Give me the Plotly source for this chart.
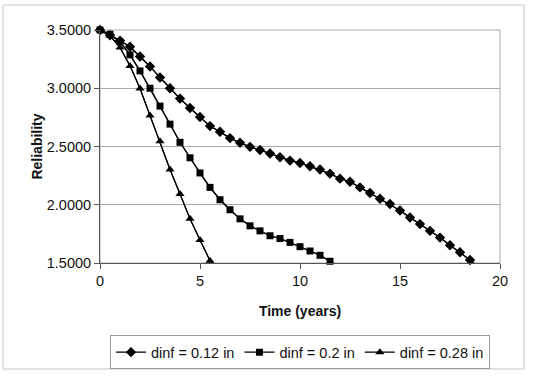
import numpy as np
import plotly.graph_objects as go

# Time axis (years) and reliability series
t_012 = [0, 0.5, 1, 1.5, 2, 2.5, 3, 3.5, 4, 4.5, 5, 5.5, 6, 6.5, 7, 7.5, 8, 8.5, 9,
         9.5, 10, 10.5, 11, 11.5, 12, 12.5, 13, 13.5, 14, 14.5, 15, 15.5, 16, 16.5,
         17, 17.5, 18, 18.5, 19]
r_012 = [3.5, 3.455, 3.408, 3.356, 3.273, 3.187, 3.092, 3.0, 2.911, 2.83, 2.753, 2.675,
         2.627, 2.572, 2.532, 2.497, 2.47, 2.44, 2.408, 2.379, 2.359, 2.33, 2.302,
         2.267, 2.224, 2.198, 2.149, 2.101, 2.052, 2.006, 1.951, 1.891, 1.834, 1.776,
         1.718, 1.653, 1.592, 1.526, 1.46]

t_020 = [0, 0.5, 1, 1.5, 2, 2.5, 3, 3.5, 4, 4.5, 5, 5.5, 6, 6.5, 7, 7.5, 8, 8.5, 9,
         9.5, 10, 10.5, 11, 11.5, 12]
r_020 = [3.5, 3.463, 3.399, 3.287, 3.149, 3.0, 2.847, 2.692, 2.536, 2.403, 2.273,
         2.149, 2.043, 1.957, 1.879, 1.819, 1.776, 1.734, 1.71, 1.677, 1.64, 1.603,
         1.566, 1.515, 1.47]

t_028 = [0, 0.5, 1, 1.5, 2, 2.5, 3, 3.5, 4, 4.5, 5, 5.5, 6]
r_028 = [3.5, 3.45, 3.35, 3.192, 2.997, 2.767, 2.545, 2.302, 2.092, 1.879, 1.698,
         1.52, 1.44]

series_names = ["dinf = 0.12 in", "dinf = 0.2 in", "dinf = 0.28 in"]
series_t = [t_012, t_020, t_028]
series_r = [r_012, r_020, r_028]
symbols = ["diamond", "square", "triangle-up"]
sizes = [8, 7, 8]

x_ticks = [0, 5, 10, 15, 20]
y_ticks = [1.5, 2.0, 2.5, 3.0, 3.5]
y_min, y_max = 1.5, 3.5

fig = go.Figure()
for name, t, r, sym, sz in zip(series_names, series_t, series_r, symbols, sizes):
    t = np.array(t, dtype=float)
    r = np.array(r, dtype=float)
    # full line (clipped to the plot area)
    fig.add_trace(go.Scatter(x=t, y=r, mode="lines", showlegend=False,
                             line=dict(color="black", width=1.2),
                             hoverinfo="skip"))
    # markers only where inside the axis range
    keep = r >= y_min
    fig.add_trace(go.Scatter(x=t[keep], y=r[keep], mode="lines+markers", name=name,
                             line=dict(color="black", width=1.2),
                             marker=dict(symbol=sym, size=sz, color="black"),
                             cliponaxis=False))

FONT = "Liberation Sans, Arial, sans-serif"
axis_font = dict(family=FONT, size=14.5, color="#111")

fig.update_layout(
    width=539, height=384,
    margin=dict(l=100, r=39, t=30, b=121),
    paper_bgcolor="white", plot_bgcolor="white",
    font=axis_font,
    showlegend=True,
    legend=dict(orientation="h", x=0.5, xanchor="center", y=-0.31, yanchor="top",
                bordercolor="#9a9a9a", borderwidth=1,
                font=dict(family=FONT, size=14.5, color="#111"),
                itemwidth=30, tracegroupgap=0),
    xaxis=dict(range=[0, 20], tickvals=x_ticks, ticks="outside", ticklen=5,
               tickcolor="#555", showline=True, linecolor="#555", linewidth=1,
               showgrid=False, zeroline=False,
               title=dict(text="<b>Time (years)</b>", standoff=17,
                          font=dict(size=14))),
    yaxis=dict(range=[y_min, y_max], tickvals=y_ticks, tickformat=".4f",
               ticks="outside", ticklen=5, tickcolor="#555",
               showline=True, linecolor="#555", linewidth=1,
               showgrid=True, gridcolor="#a8a8a8", gridwidth=1, zeroline=False,
               title=dict(text="<b>Reliability</b>", standoff=0,
                          font=dict(size=14))),
    shapes=[
        # plot area frame
        dict(type="rect", xref="paper", yref="paper", x0=0, x1=1, y0=0, y1=1,
             line=dict(color="#a8a8a8", width=1), layer="below"),
        # outer chart border
        dict(type="rect", xref="paper", yref="paper", x0=-0.2425, x1=1.06,
             y0=-0.455, y1=1.107, line=dict(color="#c8c8c8", width=1), layer="below"),
    ],
)

fig.write_html("out.html")
